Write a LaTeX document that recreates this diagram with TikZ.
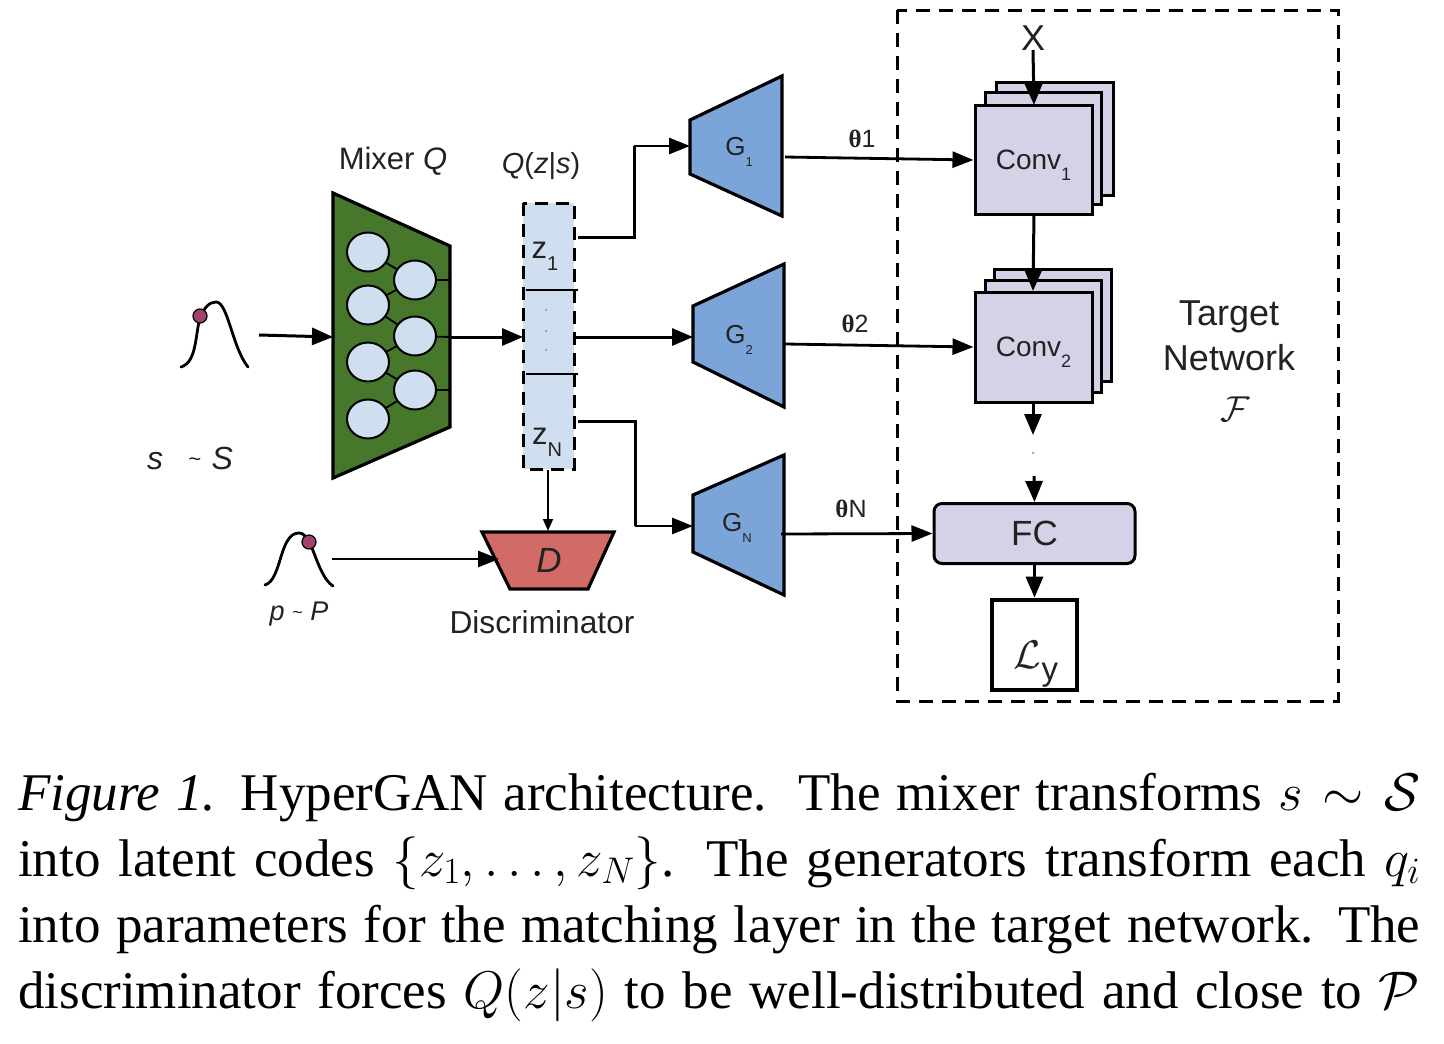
\RequirePackage{fix-cm}
\documentclass[tikz,border=0pt]{standalone}
\usepackage{fontspec}
\setmainfont{Liberation Serif}
\setsansfont{Liberation Sans}
\usetikzlibrary{arrows.meta,shapes.geometric}
\definecolor{mixgreen}{HTML}{47772A}
\definecolor{paleblue}{HTML}{CFDFF0}
\definecolor{genblue}{HTML}{7BA4D8}
\definecolor{convlilac}{HTML}{D6D1E6}
\definecolor{discred}{HTML}{D26B67}
\definecolor{dotpink}{HTML}{A0446F}
\definecolor{labelink}{HTML}{222222}
\newcommand{\fs}[1]{\fontsize{#1}{#1}\selectfont}
\newcommand{\subsans}[2]{\smash{\raisebox{-0.4em}{\fs{#1}#2}}}
\tikzset{
  x=1pt,y=-1pt,
  lab/.style={inner sep=0pt,text=labelink,font=\sffamily\fs{31}},
  big/.style={-{Triangle[length=21pt,width=17pt]},line width=3pt},
  mid/.style={-{Triangle[length=21pt,width=16pt]},line width=2.8pt},
  thin arrow/.style={-{Triangle[length=12pt,width=10pt]},line width=1.8pt},
  elbow/.style={line width=3pt},
  neuron/.style={ellipse,draw=black,line width=2pt,fill=paleblue,minimum width=42pt,minimum height=39pt,inner sep=0pt},
  synapse/.style={line width=1.8pt},
  gen/.style={draw=black,line width=3.2pt,fill=genblue,line join=miter},
  layer/.style={draw=black,line width=3pt,fill=convlilac,inner sep=0pt},
  sheet/.style={layer,minimum width=117pt,minimum height=109pt},
  bell/.style={line width=2.8pt,line cap=round},
  sampledot/.style={circle,draw=black,line width=1.2pt,fill=dotpink,minimum size=14pt,inner sep=0pt},
  capline/.style={anchor=base west,inner sep=0pt,text=black,font=\rmfamily\fs{53}},
  tinydot/.style={circle,fill=gray!80,minimum size=2.5pt,inner sep=0pt},
}
\begin{document}
\begin{tikzpicture}
\useasboundingbox (0,0) rectangle (1444,1044);
\fill[white] (0,0) rectangle (1444,1044);

% target network frame
\draw[line width=3pt,dash pattern=on 14pt off 9pt] (897,10) rectangle (1338,701);

% mixer
\draw[line width=3.2pt,fill=mixgreen,line join=miter] (333,193) -- (450,246) -- (450,427) -- (333,478) -- cycle;
\coordinate (mixL) at (333,337);
\coordinate (mixR) at (450,337);
\coordinate (edgeA) at (450,280);
\coordinate (edgeC) at (450,390);
\node[neuron] (n1) at (368,252) {};
\node[neuron] (n2) at (368,305) {};
\node[neuron] (n3) at (368,362) {};
\node[neuron] (n4) at (368,419) {};
\node[neuron] (a) at (415,280) {};
\node[neuron] (b) at (415,336) {};
\node[neuron] (c) at (415,390) {};
\foreach \p/\q in {n1/a,n2/a,n2/b,n3/b,n3/c,n4/c} \draw[synapse] (\p) -- (\q);
\draw[synapse] (a) -- (edgeA);
\draw[synapse] (c) -- (edgeC);
\draw[synapse] (b) -- (mixR);

% latent box
\fill[paleblue] (523,203) rectangle (574,469);
\draw[line width=3pt,dash pattern=on 13pt off 8pt] (523,203) rectangle (574,469);
\coordinate (d1a) at (526,290); \coordinate (d1b) at (578,290);
\coordinate (d2a) at (526,374); \coordinate (d2b) at (578,374);
\draw[line width=1.8pt] (d1a) -- (d1b);
\draw[line width=1.8pt] (d2a) -- (d2b);
\node[tinydot] (zd1) at (546,310) {};
\node[tinydot] (zd2) at (546,331) {};
\node[tinydot] (zd3) at (546,350) {};
\node[lab] (z1) at (545,250) {z\subsans{20}{1}};
\node[lab] (zN) at (547,436) {z\subsans{20}{N}};
\coordinate (zOut1) at (578,237);
\coordinate (zIn) at (523,337);
\coordinate (zOut2) at (574,337);
\coordinate (zOut3) at (578,421.5);
\coordinate (zBot) at (548,470);

% generators
\draw[gen] (690,120) -- (782,76) -- (782,216) -- (690,174) -- cycle;
\draw[gen] (693,306) -- (784,264) -- (784,407) -- (693,362) -- cycle;
\draw[gen] (693,495) -- (784,455) -- (784,595) -- (693,552) -- cycle;
\node[lab,font=\sffamily\fs{26}] (g1) at (739,147) {G\subsans{13}{1}};
\node[lab,font=\sffamily\fs{26}] (g2) at (739,335) {G\subsans{13}{2}};
\node[lab,font=\sffamily\fs{26}] (gN) at (737,523) {G\subsans{13}{N}};
\coordinate (g1in) at (690,146);
\coordinate (g2in) at (693,337);
\coordinate (gNin) at (693,526);
\coordinate (g1out) at (785,157);
\coordinate (g2out) at (785,344);
\coordinate (gNout) at (781,534);
\coordinate (k1) at (634,237); \coordinate (k2) at (634,146);
\coordinate (k3) at (635,421.5); \coordinate (k4) at (635,526);

% conv stacks
\draw[layer] (996.5,82.5) rectangle (1113.5,195);
\draw[layer] (985,92.5) rectangle (1101.5,204);
\node[sheet,font=\sffamily\fs{28},text=labelink] (conv1) at (1033.5,160) {Conv\subsans{18}{1}};
\draw[layer] (994.5,269) rectangle (1111.5,381.5);
\draw[layer] (985,280) rectangle (1101.5,392);
\node[sheet,minimum height=110pt,font=\sffamily\fs{28},text=labelink] (conv2) at (1033.5,347) {Conv\subsans{18}{2}};
\node[layer,rounded corners=8pt,minimum width=201pt,minimum height=60pt,font=\sffamily\fs{35},text=labelink] (fc) at (1034.5,533.5) {\raisebox{-1pt}{FC}};
\node[draw=black,line width=4.6pt,fill=white,minimum width=85pt,minimum height=90pt,inner sep=0pt] (loss) at (1034.5,645) {};
\node[lab,font=\fs{40}] (lossT) at (1036,655) {$\mathcal{L}$\smash{\raisebox{-0.3em}{\sffamily\fs{33}y}}};
\node[lab,font=\sffamily\fs{36}] (x) at (1033,38) {X};
\coordinate (xb) at (1033,50);
\coordinate (conv1top) at (1034,105);
\coordinate (conv1bot) at (1034,214);
\coordinate (conv2top) at (1033,291);
\coordinate (conv2bot) at (1033,402);
\coordinate (dotsTop) at (1033,435);
\coordinate (dotsBot) at (1034,476);
\node[tinydot] (gap) at (1033,453) {};

% discriminator
\draw[line width=3.2pt,fill=discred,line join=miter] (482,532) -- (614,532) -- (588,589) -- (510,589) -- cycle;
\node[lab,font=\sffamily\itshape\fs{35}] (D) at (549,560) {D};
\coordinate (discTop) at (548,531);
\coordinate (discL) at (499,559);

% noise sources
\draw[bell] (181,367) .. controls (197,362) and (195,335) .. (200,318) .. controls (204,308) and (209,302) .. (216,302) .. controls (228,302) and (232,347) .. (248,367);
\node[sampledot] (sd) at (200,316) {};
\coordinate (sOut) at (259,335);
\draw[bell] (265,585) .. controls (282,580) and (279,533) .. (299,533) .. controls (313,533) and (316,575) .. (333,586);
\node[sampledot] (pd) at (309,542) {};
\coordinate (pOut) at (332,559);

% connectors
\draw[big] (sOut) -- (mixL);
\draw[big] (mixR) -- (zIn);
\draw[elbow] (zOut1) -- (k1) -- (k2);
\draw[mid] (k2) -- (g1in);
\draw[big] (zOut2) -- (g2in);
\draw[elbow] (zOut3) -- (k3) -- (k4);
\draw[mid] (k4) -- (gNin);
\draw[thin arrow] (zBot) -- (discTop);
\draw[mid] (pOut) -- (discL);
\draw[mid] (g1out) -- (conv1.west);
\draw[mid] (g2out) -- (conv2.west);
\draw[mid] (gNout) -- (fc.west);
\draw[big] (xb) -- (conv1top);
\draw[big] (conv1bot) -- (conv2top);
\draw[big] (conv2bot) -- (dotsTop);
\draw[big] (dotsBot) -- (fc.north);
\draw[big] (fc.south) -- (loss.north);

% labels
\node[lab] (mixT) at (393,161) {Mixer \textit{Q}};
\node[lab,font=\sffamily\fs{29}] (qT) at (541,166) {\textit{Q}(\textit{z}|\textit{s})};
\node[lab,font=\sffamily\itshape\fs{32}] (sT) at (190,458) {s\,\,\, {\fs{22}\raisebox{0.1em}{\textasciitilde}}\,\,S};
\node[lab,font=\sffamily\itshape\fs{27}] (pT) at (299,614) {p {\fs{18}\raisebox{0.1em}{\textasciitilde}} P};
\node[lab,font=\sffamily\fs{31.7}] (discT) at (542,622) {Discriminator};
\node[lab,font=\sffamily\fs{25}] (t1) at (862,139) {{\rmfamily\bfseries θ}1};
\node[lab,font=\sffamily\fs{25}] (t2) at (855,324) {{\rmfamily\bfseries θ}2};
\node[lab,font=\sffamily\fs{25}] (tN) at (851,509) {{\rmfamily\bfseries θ}N};
\node[lab,font=\sffamily\fs{36}] (tar1) at (1229,317) {Target};
\node[lab,font=\sffamily\fs{36}] (tar2) at (1229,358) {Network};
\node[lab,font=\fs{36}] (tar3) at (1235,409) {$\mathcal{F}$};

% caption
\node[capline] (cap1) at (18,810) {\hbox to 1402pt{\textit{Figure 1.} HyperGAN architecture.\ \ The mixer transforms $s\sim\mathcal{S}$}};
\node[capline] (cap2) at (18,876) {\hbox to 1402pt{into latent codes $\{z_1,\ldots,z_N\}$. The generators transform each $q_i$}};
\node[capline] (cap3) at (18,942) {\hbox to 1402pt{into parameters for the matching layer in the target network. The}};
\node[capline] (cap4) at (18,1008) {\hbox to 1402pt{discriminator forces $Q(z|s)$ to be well-distributed and close to $\mathcal{P}$}};
\end{tikzpicture}
\end{document}
